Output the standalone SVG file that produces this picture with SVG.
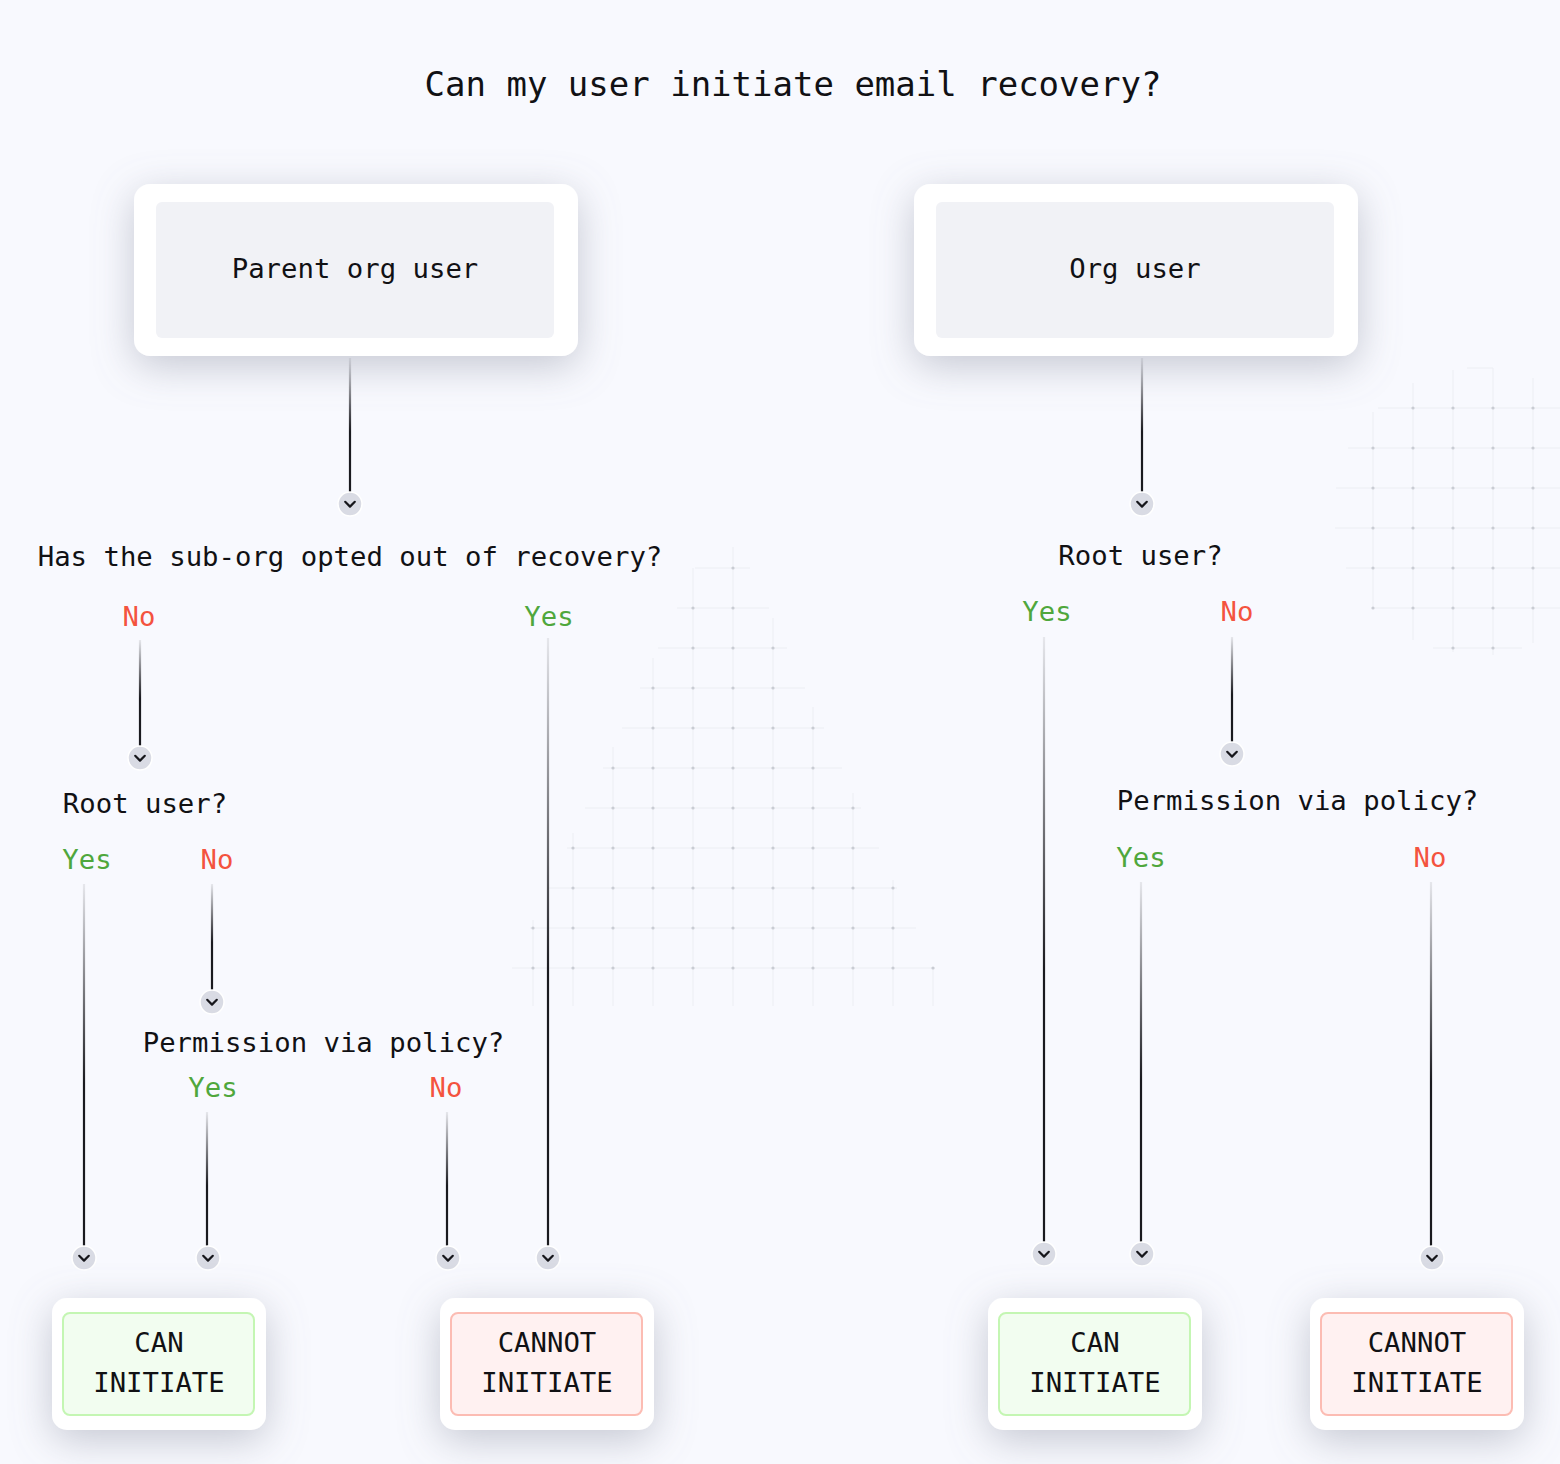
<svg xmlns="http://www.w3.org/2000/svg" xmlns:xlink="http://www.w3.org/1999/xlink" width="1560" height="1464" viewBox="0 0 1560 1464">
<style>
  text { font-family: "DejaVu Sans Mono", "Liberation Mono", monospace; fill: #111114; }
  .title { font-size: 34px; text-anchor: middle; }
  .t { font-size: 27.3px; text-anchor: middle; }
  .yes { fill: #4fa73c; }
  .no { fill: #f4533f; }
  .card { fill: #ffffff; }
  .cardin { fill: #f1f2f6; }
  .canin { fill: #f2fdf0; stroke: #c4f6b3; stroke-width: 2; }
  .cannotin { fill: #fff1f1; stroke: #fcbcb3; stroke-width: 2; }
  .g { stroke: #eceef3; stroke-width: 1; fill: none; }
  .d { fill: #c9ccd3; }
  .conn { fill: none; stroke-width: 2.2; }
  .chc { fill: #d9dbe4; stroke: #ffffff; stroke-width: 1.5; }
  .chv { fill: none; stroke: #16161b; stroke-width: 2.2; stroke-linecap: round; stroke-linejoin: round; }
</style>
<defs>
  <filter id="sh" x="-40%" y="-50%" width="180%" height="210%">
    <feDropShadow dx="0" dy="10" stdDeviation="20" flood-color="#7d8295" flood-opacity="0.42"/>
  </filter>
  <linearGradient id="fade" x1="0" y1="0" x2="0" y2="1">
    <stop offset="0" stop-color="#1a1a1f" stop-opacity="0.08"/>
    <stop offset="0.55" stop-color="#1a1a1f" stop-opacity="1"/>
    <stop offset="1" stop-color="#1a1a1f" stop-opacity="1"/>
  </linearGradient>
  <linearGradient id="c1" href="#fade" gradientUnits="userSpaceOnUse" x1="0" y1="358" x2="0" y2="492"/>
  <linearGradient id="c2" href="#fade" gradientUnits="userSpaceOnUse" x1="0" y1="640" x2="0" y2="746"/>
  <linearGradient id="c3" href="#fade" gradientUnits="userSpaceOnUse" x1="0" y1="638" x2="0" y2="1246"/>
  <linearGradient id="c4" href="#fade" gradientUnits="userSpaceOnUse" x1="0" y1="884" x2="0" y2="1246"/>
  <linearGradient id="c5" href="#fade" gradientUnits="userSpaceOnUse" x1="0" y1="884" x2="0" y2="990"/>
  <linearGradient id="c6" href="#fade" gradientUnits="userSpaceOnUse" x1="0" y1="1112" x2="0" y2="1246"/>
  <linearGradient id="c9" href="#fade" gradientUnits="userSpaceOnUse" x1="0" y1="637" x2="0" y2="1242"/>
  <linearGradient id="c10" href="#fade" gradientUnits="userSpaceOnUse" x1="0" y1="637" x2="0" y2="742"/>
  <linearGradient id="c11" href="#fade" gradientUnits="userSpaceOnUse" x1="0" y1="882" x2="0" y2="1242"/>
  <linearGradient id="c12" href="#fade" gradientUnits="userSpaceOnUse" x1="0" y1="882" x2="0" y2="1246"/>
  <g id="chev">
    <circle class="chc" cx="0" cy="0" r="12"/>
    <path class="chv" d="M-4.8 -2.2 L0 2.6 L4.8 -2.2"/>
  </g>
</defs>

<rect x="0" y="0" width="1560" height="1464" fill="#f8f9fe"/>

<!-- background grid: middle -->
<g id="grid-mid">
  <path class="g" d="M695 568H750M677 608H769M658 648H787M640 688H805M622 728H824M603 768H842M585 808H861M567 848H879M548 888H897M530 928H916M512 968H935"/>
  <path class="g" d="M733 547V1006M693 568V1006M773 618V1006M653 658V1006M813 707V1006M613 747V1006M853 793V1006M573 833V1006M893 880V1006M533 920V1006M933 967V1006"/>
  <g class="d">
    <circle cx="733" cy="568" r="1.6"/>
    <circle cx="693" cy="608" r="1.6"/><circle cx="733" cy="608" r="1.6"/>
    <circle cx="693" cy="648" r="1.6"/><circle cx="733" cy="648" r="1.6"/><circle cx="773" cy="648" r="1.6"/>
    <circle cx="653" cy="688" r="1.6"/><circle cx="693" cy="688" r="1.6"/><circle cx="733" cy="688" r="1.6"/><circle cx="773" cy="688" r="1.6"/>
    <circle cx="653" cy="728" r="1.6"/><circle cx="693" cy="728" r="1.6"/><circle cx="733" cy="728" r="1.6"/><circle cx="773" cy="728" r="1.6"/><circle cx="813" cy="728" r="1.6"/>
    <circle cx="613" cy="768" r="1.6"/><circle cx="653" cy="768" r="1.6"/><circle cx="693" cy="768" r="1.6"/><circle cx="733" cy="768" r="1.6"/><circle cx="773" cy="768" r="1.6"/><circle cx="813" cy="768" r="1.6"/>
    <circle cx="613" cy="808" r="1.6"/><circle cx="653" cy="808" r="1.6"/><circle cx="693" cy="808" r="1.6"/><circle cx="733" cy="808" r="1.6"/><circle cx="773" cy="808" r="1.6"/><circle cx="813" cy="808" r="1.6"/><circle cx="853" cy="808" r="1.6"/>
    <circle cx="573" cy="848" r="1.6"/><circle cx="613" cy="848" r="1.6"/><circle cx="653" cy="848" r="1.6"/><circle cx="693" cy="848" r="1.6"/><circle cx="733" cy="848" r="1.6"/><circle cx="773" cy="848" r="1.6"/><circle cx="813" cy="848" r="1.6"/><circle cx="853" cy="848" r="1.6"/>
    <circle cx="573" cy="888" r="1.6"/><circle cx="613" cy="888" r="1.6"/><circle cx="653" cy="888" r="1.6"/><circle cx="693" cy="888" r="1.6"/><circle cx="733" cy="888" r="1.6"/><circle cx="773" cy="888" r="1.6"/><circle cx="813" cy="888" r="1.6"/><circle cx="853" cy="888" r="1.6"/><circle cx="893" cy="888" r="1.6"/>
    <circle cx="533" cy="928" r="1.6"/><circle cx="573" cy="928" r="1.6"/><circle cx="613" cy="928" r="1.6"/><circle cx="653" cy="928" r="1.6"/><circle cx="693" cy="928" r="1.6"/><circle cx="733" cy="928" r="1.6"/><circle cx="773" cy="928" r="1.6"/><circle cx="813" cy="928" r="1.6"/><circle cx="853" cy="928" r="1.6"/><circle cx="893" cy="928" r="1.6"/>
    <circle cx="533" cy="968" r="1.6"/><circle cx="573" cy="968" r="1.6"/><circle cx="613" cy="968" r="1.6"/><circle cx="653" cy="968" r="1.6"/><circle cx="693" cy="968" r="1.6"/><circle cx="733" cy="968" r="1.6"/><circle cx="773" cy="968" r="1.6"/><circle cx="813" cy="968" r="1.6"/><circle cx="853" cy="968" r="1.6"/><circle cx="893" cy="968" r="1.6"/><circle cx="933" cy="968" r="1.6"/>
  </g>
</g>

<!-- background grid: right -->
<g id="grid-right">
  <path class="g" d="M1467 368H1493M1378 408H1560M1348 448H1560M1336 488H1560M1335 528H1560M1346 568H1560M1373 608H1560M1433 648H1522"/>
  <path class="g" d="M1373 412V608M1413 383V640M1453 370V652M1493 368V655M1533 378V643"/>
  <g class="d">
    <circle cx="1413" cy="408" r="1.6"/><circle cx="1453" cy="408" r="1.6"/><circle cx="1493" cy="408" r="1.6"/><circle cx="1533" cy="408" r="1.6"/>
    <circle cx="1373" cy="448" r="1.6"/><circle cx="1413" cy="448" r="1.6"/><circle cx="1453" cy="448" r="1.6"/><circle cx="1493" cy="448" r="1.6"/><circle cx="1533" cy="448" r="1.6"/>
    <circle cx="1373" cy="488" r="1.6"/><circle cx="1413" cy="488" r="1.6"/><circle cx="1453" cy="488" r="1.6"/><circle cx="1493" cy="488" r="1.6"/><circle cx="1533" cy="488" r="1.6"/>
    <circle cx="1373" cy="528" r="1.6"/><circle cx="1413" cy="528" r="1.6"/><circle cx="1453" cy="528" r="1.6"/><circle cx="1493" cy="528" r="1.6"/><circle cx="1533" cy="528" r="1.6"/>
    <circle cx="1373" cy="568" r="1.6"/><circle cx="1413" cy="568" r="1.6"/><circle cx="1453" cy="568" r="1.6"/><circle cx="1493" cy="568" r="1.6"/><circle cx="1533" cy="568" r="1.6"/>
    <circle cx="1373" cy="608" r="1.6"/><circle cx="1413" cy="608" r="1.6"/><circle cx="1453" cy="608" r="1.6"/><circle cx="1493" cy="608" r="1.6"/><circle cx="1533" cy="608" r="1.6"/>
    <circle cx="1453" cy="648" r="1.6"/><circle cx="1493" cy="648" r="1.6"/>
  </g>
</g>

<text class="title" x="793" y="96">Can my user initiate email recovery?</text>

<!-- connectors -->
<g id="connectors">
  <path class="conn" stroke="url(#c1)" d="M350 358V492"/>
  <path class="conn" stroke="url(#c2)" d="M140 640V746"/>
  <path class="conn" stroke="url(#c3)" d="M548 638V1246"/>
  <path class="conn" stroke="url(#c4)" d="M84 884V1246"/>
  <path class="conn" stroke="url(#c5)" d="M212 884V990"/>
  <path class="conn" stroke="url(#c6)" d="M207 1112V1246"/>
  <path class="conn" stroke="url(#c6)" d="M447 1112V1246"/>
  <path class="conn" stroke="url(#c1)" d="M1142 358V492"/>
  <path class="conn" stroke="url(#c9)" d="M1044 637V1242"/>
  <path class="conn" stroke="url(#c10)" d="M1232 637V742"/>
  <path class="conn" stroke="url(#c11)" d="M1141 882V1242"/>
  <path class="conn" stroke="url(#c12)" d="M1431 882V1246"/>
  <use href="#chev" x="350" y="504"/>
  <use href="#chev" x="140" y="758"/>
  <use href="#chev" x="548" y="1258"/>
  <use href="#chev" x="84" y="1258"/>
  <use href="#chev" x="212" y="1002"/>
  <use href="#chev" x="208" y="1258"/>
  <use href="#chev" x="448" y="1258"/>
  <use href="#chev" x="1142" y="504"/>
  <use href="#chev" x="1044" y="1254"/>
  <use href="#chev" x="1232" y="754"/>
  <use href="#chev" x="1142" y="1254"/>
  <use href="#chev" x="1432" y="1258"/>
  <text class="t no" x="139" y="626">No</text>
  <text class="t yes" x="549" y="626">Yes</text>
  <text class="t yes" x="87" y="869">Yes</text>
  <text class="t no" x="217" y="869">No</text>
  <text class="t yes" x="213" y="1097">Yes</text>
  <text class="t no" x="446" y="1097">No</text>
  <text class="t yes" x="1047" y="621">Yes</text>
  <text class="t no" x="1237" y="621">No</text>
  <text class="t yes" x="1141" y="867">Yes</text>
  <text class="t no" x="1430" y="867">No</text>
</g>

<!-- nodes -->
<g id="parent-org-user">
  <rect class="card" x="134" y="184" width="444" height="172" rx="16" filter="url(#sh)"/>
  <rect class="cardin" x="156" y="202" width="398" height="136" rx="6"/>
  <text class="t" x="355" y="278">Parent org user</text>
</g>
<g id="org-user">
  <rect class="card" x="914" y="184" width="444" height="172" rx="16" filter="url(#sh)"/>
  <rect class="cardin" x="936" y="202" width="398" height="136" rx="6"/>
  <text class="t" x="1135" y="278">Org user</text>
</g>
<g id="q-suborg-opted-out">
  <text class="t" x="350" y="566">Has the sub-org opted out of recovery?</text>
</g>
<g id="q-root-left">
  <text class="t" x="145" y="813">Root user?</text>
</g>
<g id="q-policy-left">
  <text class="t" x="323.5" y="1052">Permission via policy?</text>
</g>
<g id="q-root-right">
  <text class="t" x="1140.5" y="565">Root user?</text>
</g>
<g id="q-policy-right">
  <text class="t" x="1297.5" y="810">Permission via policy?</text>
</g>
<g id="can-left">
  <rect class="card" x="52" y="1298" width="214" height="132" rx="15" filter="url(#sh)"/>
  <rect class="canin" x="63" y="1313" width="191" height="102" rx="7"/>
  <text class="t" x="159" y="1352">CAN</text>
  <text class="t" x="159" y="1392">INITIATE</text>
</g>
<g id="cannot-left">
  <rect class="card" x="440" y="1298" width="214" height="132" rx="15" filter="url(#sh)"/>
  <rect class="cannotin" x="451" y="1313" width="191" height="102" rx="7"/>
  <text class="t" x="547" y="1352">CANNOT</text>
  <text class="t" x="547" y="1392">INITIATE</text>
</g>
<g id="can-right">
  <rect class="card" x="988" y="1298" width="214" height="132" rx="15" filter="url(#sh)"/>
  <rect class="canin" x="999" y="1313" width="191" height="102" rx="7"/>
  <text class="t" x="1095" y="1352">CAN</text>
  <text class="t" x="1095" y="1392">INITIATE</text>
</g>
<g id="cannot-right">
  <rect class="card" x="1310" y="1298" width="214" height="132" rx="15" filter="url(#sh)"/>
  <rect class="cannotin" x="1321" y="1313" width="191" height="102" rx="7"/>
  <text class="t" x="1417" y="1352">CANNOT</text>
  <text class="t" x="1417" y="1392">INITIATE</text>
</g>
</svg>
